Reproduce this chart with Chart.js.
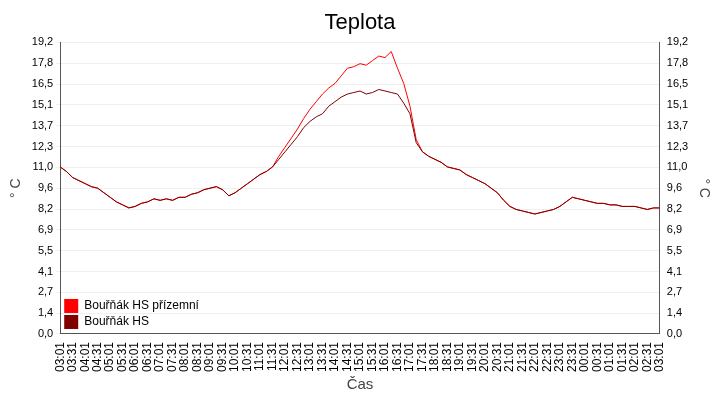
<!DOCTYPE html><html><head><meta charset="utf-8">
<script src="https://cdn.jsdelivr.net/npm/chart.js@4"></script>
<style>body{margin:0;background:#fff}#w{width:720px;height:400px}</style></head><body><div id="w"><canvas id="c"></canvas></div>
<script>
const seriesNames=["Bouřňák HS přízemní","Bouřňák HS"];
const seriesColors=["#ff0000","#800000"];
const startMinute=3*60+1;
const stepMinutes=15;
const dark=[11.0,10.7,10.3,10.1,9.9,9.7,9.6,9.3,9.0,8.7,8.5,8.3,8.4,8.6,8.7,8.9,8.8,8.9,8.8,9.0,9.0,9.2,9.3,9.5,9.6,9.7,9.5,9.1,9.3,9.6,9.9,10.2,10.5,10.7,11.0,11.5,12.0,12.5,13.0,13.6,14.0,14.3,14.5,15.0,15.3,15.6,15.8,15.9,16.0,15.8,15.9,16.1,16.0,15.9,15.8,15.2,14.5,12.6,12.0,11.7,11.5,11.3,11.0,10.9,10.8,10.5,10.3,10.1,9.9,9.6,9.3,8.8,8.4,8.2,8.1,8.0,7.9,8.0,8.1,8.2,8.4,8.7,9.0,8.9,8.8,8.7,8.6,8.6,8.5,8.5,8.4,8.4,8.4,8.3,8.2,8.3,8.3];
const light=[11.0,10.7,10.3,10.1,9.9,9.7,9.6,9.3,9.0,8.7,8.5,8.3,8.4,8.6,8.7,8.9,8.8,8.9,8.8,9.0,9.0,9.2,9.3,9.5,9.6,9.7,9.5,9.1,9.3,9.6,9.9,10.2,10.5,10.7,11.0,11.7,12.3,12.9,13.5,14.2,14.8,15.3,15.8,16.2,16.5,17.0,17.5,17.6,17.8,17.7,18.0,18.3,18.2,18.6,17.5,16.5,15.0,12.8,12.0,11.7,11.5,11.3,11.0,10.9,10.8,10.5,10.3,10.1,9.9,9.6,9.3,8.8,8.4,8.2,8.1,8.0,7.9,8.0,8.1,8.2,8.4,8.7,9.0,8.9,8.8,8.7,8.6,8.6,8.5,8.5,8.4,8.4,8.4,8.3,8.2,8.3,8.3];
const toPts=a=>a.map((v,i)=>({x:i*stepMinutes,y:v}));
const fmtT=m=>{const t=(startMinute+m)%1440;return String(Math.floor(t/60)).padStart(2,'0')+':'+String(t%60).padStart(2,'0');};
const fmtY=v=>v.toFixed(1).replace('.',',');
const legendPlugin={id:'lg',afterDraw(ch){const c=ch.ctx,a=ch.chartArea;c.save();c.font='12px Arial';c.textBaseline='middle';
 seriesNames.forEach((n,i)=>{const y=a.bottom-28+i*16;c.fillStyle=seriesColors[i];c.fillRect(a.left+4,y-7,14,14);c.fillStyle='#000';c.fillText(n,a.left+24,y);});c.restore();}};
const yAx=pos=>({position:pos,min:0,max:19.2,afterBuildTicks(s){s.ticks=[];for(let i=0;i<=14;i++)s.ticks.push({value:19.2*i/14});},
 ticks:{callback:v=>fmtY(v),color:'#000',font:{size:11,family:'Arial'}},grid:{display:pos==='left',color:'#efefef',drawTicks:true,tickLength:4},border:{color:'#555'},
 title:{display:true,text:'° C',color:'#444',font:{size:14,family:'Arial'}}});
new Chart(document.getElementById('c'),{type:'line',
 data:{datasets:[
  {label:seriesNames[1],data:toPts(dark),borderColor:seriesColors[1],borderWidth:1,pointRadius:0,tension:0},
  {label:seriesNames[0],data:toPts(light),borderColor:seriesColors[0],borderWidth:1,pointRadius:0,tension:0}]},
 options:{responsive:true,maintainAspectRatio:false,animation:false,
  layout:{padding:{left:4,right:4,top:2,bottom:6}},
  plugins:{legend:{display:false},tooltip:{enabled:false},
   title:{display:true,text:'Teplota',color:'#000',font:{size:22,family:'Arial',weight:'normal'},padding:{top:8,bottom:6}}},
  scales:{x:{type:'linear',min:0,max:1440,afterBuildTicks(s){s.ticks=[];for(let m=0;m<=1440;m+=30)s.ticks.push({value:m});},
    ticks:{callback:v=>fmtT(v),maxRotation:90,minRotation:90,autoSkip:false,color:'#000',padding:4,font:{size:12,family:'Arial'}},
    grid:{display:false,drawTicks:true,tickLength:4},border:{color:'#555'},
    title:{display:true,text:'Čas',color:'#444',font:{size:15,family:'Arial'},padding:0}},
   y:yAx('left'),y2:yAx('right')}},
 plugins:[legendPlugin]});
</script></body></html>
